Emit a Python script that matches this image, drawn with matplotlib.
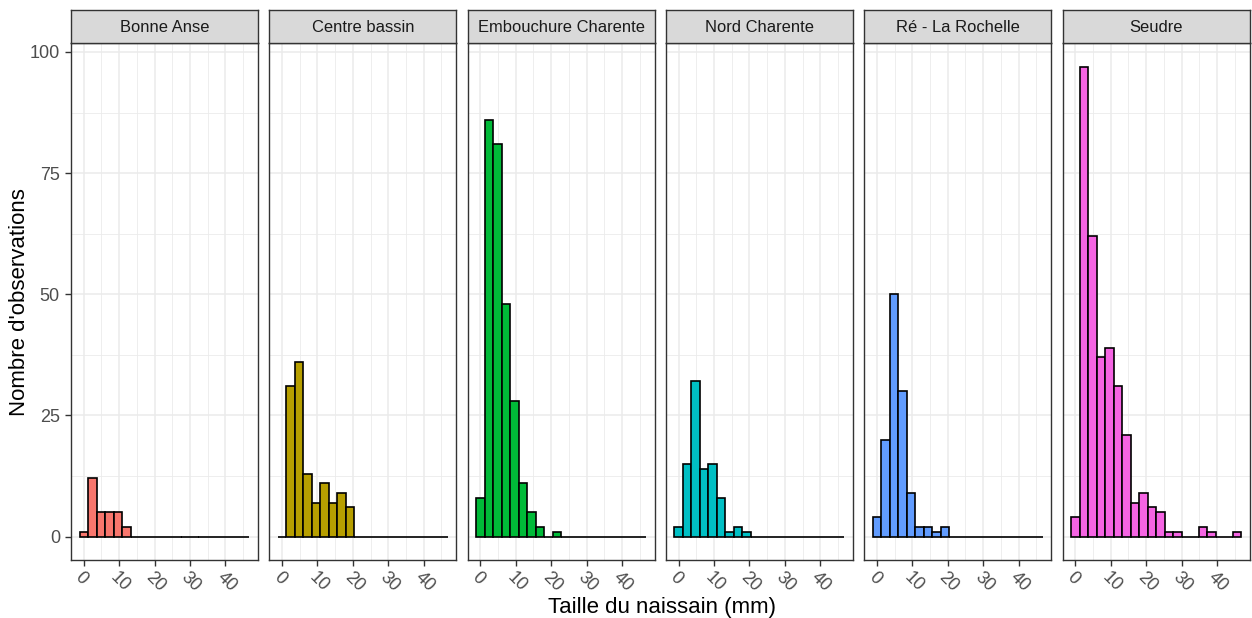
import numpy as np
import matplotlib.pyplot as plt

plt.rcParams["font.family"] = ["Liberation Sans", "DejaVu Sans"]

# counts per histogram bin (20 bins, ~2.4 mm wide, first centred on 0)
sites = ["Bonne Anse", "Centre bassin", "Embouchure Charente",
         "Nord Charente", "Ré - La Rochelle", "Seudre"]
bonne_anse = [1, 12, 5, 5, 5, 2, 0, 0, 0, 0, 0, 0, 0, 0, 0, 0, 0, 0, 0, 0]
centre_bassin = [0, 31, 36, 13, 7, 11, 7, 9, 6, 0, 0, 0, 0, 0, 0, 0, 0, 0, 0, 0]
embouchure_charente = [8, 86, 81, 48, 28, 11, 5, 2, 0, 1, 0, 0, 0, 0, 0, 0, 0, 0, 0, 0]
nord_charente = [2, 15, 32, 14, 15, 8, 1, 2, 1, 0, 0, 0, 0, 0, 0, 0, 0, 0, 0, 0]
re_la_rochelle = [4, 20, 50, 30, 9, 2, 2, 1, 2, 0, 0, 0, 0, 0, 0, 0, 0, 0, 0, 0]
seudre = [4, 97, 62, 37, 39, 31, 21, 7, 9, 6, 5, 1, 1, 0, 0, 2, 1, 0, 0, 1]
counts = [bonne_anse, centre_bassin, embouchure_charente,
          nord_charente, re_la_rochelle, seudre]
fills = ["#F8766D", "#B79F00", "#00BA38", "#00BFC4", "#619CFF", "#F564E3"]
bin_width = 2.4
x_ticks = [0, 10, 20, 30, 40]
y_ticks = [0, 25, 50, 75, 100]

W, H = 1252, 618
fig = plt.figure(figsize=(W / 100, H / 100), dpi=100)

grey20 = "#333333"
left0, step, pw = 71, 198.3, 187.0
top, bottom, strip_top = 43, 560, 9.5

for i, (site, cnt, col) in enumerate(zip(sites, counts, fills)):
    x0 = left0 + i * step
    ax = fig.add_axes([x0 / W, 1 - bottom / H, pw / W, (bottom - top) / H])
    centers = np.arange(len(cnt)) * bin_width
    ax.bar(centers, cnt, width=bin_width, color=col, edgecolor="black",
           linewidth=1.2, zorder=3)
    lo = centers[0] - bin_width / 2
    hi = centers[-1] + bin_width / 2
    pad = 0.05 * (hi - lo)
    ax.set_xlim(lo - pad, hi + pad)
    ax.set_ylim(-0.05 * max(seudre), max(seudre) * 1.05)

    ax.set_xticks(x_ticks)
    ax.set_xticks([5, 15, 25, 35, 45], minor=True)
    ax.set_yticks(y_ticks)
    ax.set_yticks([12.5, 37.5, 62.5, 87.5], minor=True)
    ax.grid(which="major", color="#EBEBEB", linewidth=1.1, zorder=0)
    ax.grid(which="minor", color="#EBEBEB", linewidth=0.6, zorder=0)
    ax.set_axisbelow(True)
    ax.tick_params(which="minor", length=0)
    ax.tick_params(which="major", color=grey20, width=1.0, length=4.5,
                   labelcolor="#4D4D4D", labelsize=13)
    ax.tick_params(axis="x", pad=2)
    for lab in ax.get_xticklabels():
        lab.set_rotation(-45)
        lab.set_ha("left")
        lab.set_va("top")
        lab.set_rotation_mode("anchor")
    if i > 0:
        ax.tick_params(axis="y", length=0, labelleft=False)
    for sp in ax.spines.values():
        sp.set_color(grey20)
        sp.set_linewidth(1.0)

    sax = fig.add_axes([x0 / W, 1 - top / H, pw / W, (top - strip_top) / H])
    sax.set_facecolor("#D9D9D9")
    sax.set_xticks([])
    sax.set_yticks([])
    for sp in sax.spines.values():
        sp.set_color(grey20)
        sp.set_linewidth(1.0)
    sax.text(0.5, 0.45, site, ha="center", va="center", fontsize=11.9,
             color="#1A1A1A", transform=sax.transAxes)

fig.text(662 / W, 1 - 607 / H, "Taille du naissain (mm)", ha="center",
         va="center", fontsize=16)
fig.text(20 / W, 1 - 302 / H, "Nombre d'observations", ha="center",
         va="center", rotation=90, fontsize=16)

fig.savefig("out.png", dpi=100)
